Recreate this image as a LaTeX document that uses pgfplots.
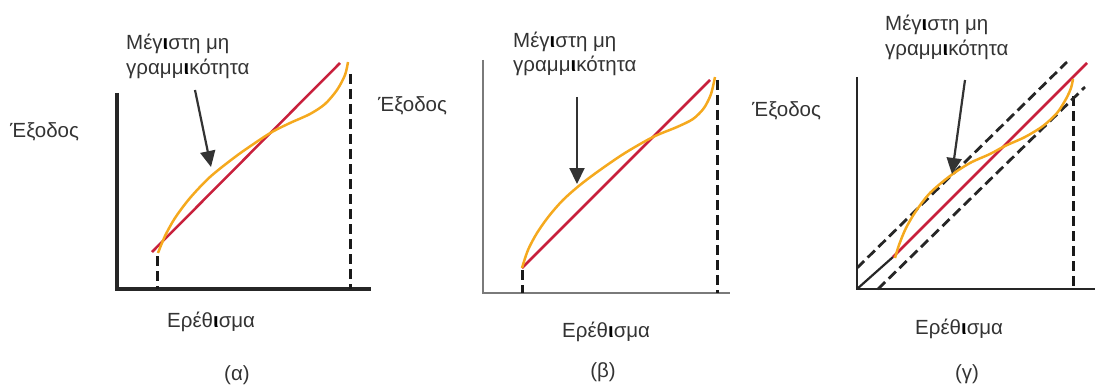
\documentclass[border=0pt]{standalone}
\usepackage{fontspec}
\setmainfont{Liberation Sans}
\usepackage{pgfplots}
\pgfplotsset{compat=1.18}
\usetikzlibrary{arrows.meta}
\definecolor{curvered}{HTML}{C8203C}
\definecolor{curveorange}{HTML}{F5A91E}
\definecolor{ink}{HTML}{333333}
\definecolor{axisgrey}{HTML}{7A7A7A}
\newcommand{\bi}{\textbf{\color{black}ι}}
\tikzset{lbl/.style={font=\fontsize{20.5bp}{25bp}\selectfont, text=ink, inner sep=0pt}}
\begin{document}
\begin{tikzpicture}
\begin{axis}[
  scale only axis, width=1095bp, height=387bp,
  xmin=0, xmax=1095, ymin=0, ymax=387, y dir=reverse,
  hide axis, clip=false,
  ideal/.style={curvered, line width=2.5bp},
  real/.style={curveorange, line width=2.5bp, smooth, tension=0.5},
  limit/.style={black!85, line width=2.8bp, dash pattern=on 10bp off 5bp},
  vlimit/.style={black!90, line width=3.2bp, dash pattern=on 10bp off 5bp},
  pointer/.style={ink, line width=2.2bp, -{Triangle[length=16bp,width=15bp]}},
]
% ---------------- (a) ----------------
\addplot[black!85, line width=3.6bp] coordinates {(117,93) (117,289) (371,289)};
\addplot[vlimit] coordinates {(157.5,256) (157.5,289)};
\addplot[vlimit] coordinates {(350.5,74) (350.5,289)};
\addplot[ideal] coordinates {(152,252) (340,63)};
\addplot[real] coordinates {(158,253) (165,236) (175,218) (190,198) (210,177) (235,157)
  (255,143) (272,132) (290,123) (310,114) (325,104) (337,90) (345,75) (348,62)};
\addplot[pointer] coordinates {(195,90) (211,167)};
\node[lbl, anchor=base west] at (axis cs:126,50) {Μέγ\bi στη μη};
\node[lbl, anchor=base west] at (axis cs:126,75) {γραμμ\bi κότητα};
\node[lbl, anchor=base west] at (axis cs:10,137) {Έξοδος};
\node[lbl, anchor=base west] at (axis cs:167,327) {Ερέθ\bi σμα};
\node[lbl, anchor=base] at (axis cs:237,380) {(α)};
% ---------------- (b) ----------------
\addplot[axisgrey, line width=2.5bp] coordinates {(483,60) (483,293) (730,293)};
\addplot[vlimit] coordinates {(522.5,270) (522.5,293)};
\addplot[vlimit] coordinates {(717.5,80) (717.5,293)};
\addplot[ideal] coordinates {(522,268) (710,80)};
\addplot[real] coordinates {(522,268) (528,250) (537,233) (549,216) (563,200) (580,185)
  (600,170) (625,153) (653,137) (677,127) (693,119) (704,108) (711,94) (715,77)};
\addplot[pointer] coordinates {(577,97) (577,184)};
\node[lbl, anchor=base west] at (axis cs:513,48) {Μέγ\bi στη μη};
\node[lbl, anchor=base west] at (axis cs:513,72) {γραμμ\bi κότητα};
\node[lbl, anchor=base west] at (axis cs:378,112) {Έξοδος};
\node[lbl, anchor=base west] at (axis cs:562,337) {Ερέθ\bi σμα};
\node[lbl, anchor=base] at (axis cs:603,377) {(β)};
% ---------------- (c) ----------------
\addplot[black!85, line width=2.5bp] coordinates {(857,77) (857,289) (1095,289)};
\addplot[vlimit] coordinates {(1073.5,96) (1073.5,289)};
\addplot[black!85, line width=2.2bp] coordinates {(857,289) (893,257)};
\addplot[limit] coordinates {(857,268) (1067,62)};
\addplot[limit] coordinates {(878,289) (1085,87)};
\addplot[ideal] coordinates {(893,257) (1087,63)};
\addplot[real] coordinates {(895,258) (899,245) (906,228) (916,211) (930,193) (950,176)
  (970,163) (990,154) (1005,146) (1025,137) (1043,126) (1057,113) (1066,99) (1071,88) (1073,79)};
\addplot[pointer] coordinates {(965,80) (952,174)};
\node[lbl, anchor=base west] at (axis cs:885,31) {Μέγ\bi στη μη};
\node[lbl, anchor=base west] at (axis cs:885,56) {γραμμ\bi κότητα};
\node[lbl, anchor=base west] at (axis cs:752,117) {Έξοδος};
\node[lbl, anchor=base west] at (axis cs:915,334) {Ερέθ\bi σμα};
\node[lbl, anchor=base] at (axis cs:967,379) {(γ)};
\end{axis}
\pgfresetboundingbox
\path (0,0) rectangle (1095bp,387bp);
\end{tikzpicture}
\end{document}
